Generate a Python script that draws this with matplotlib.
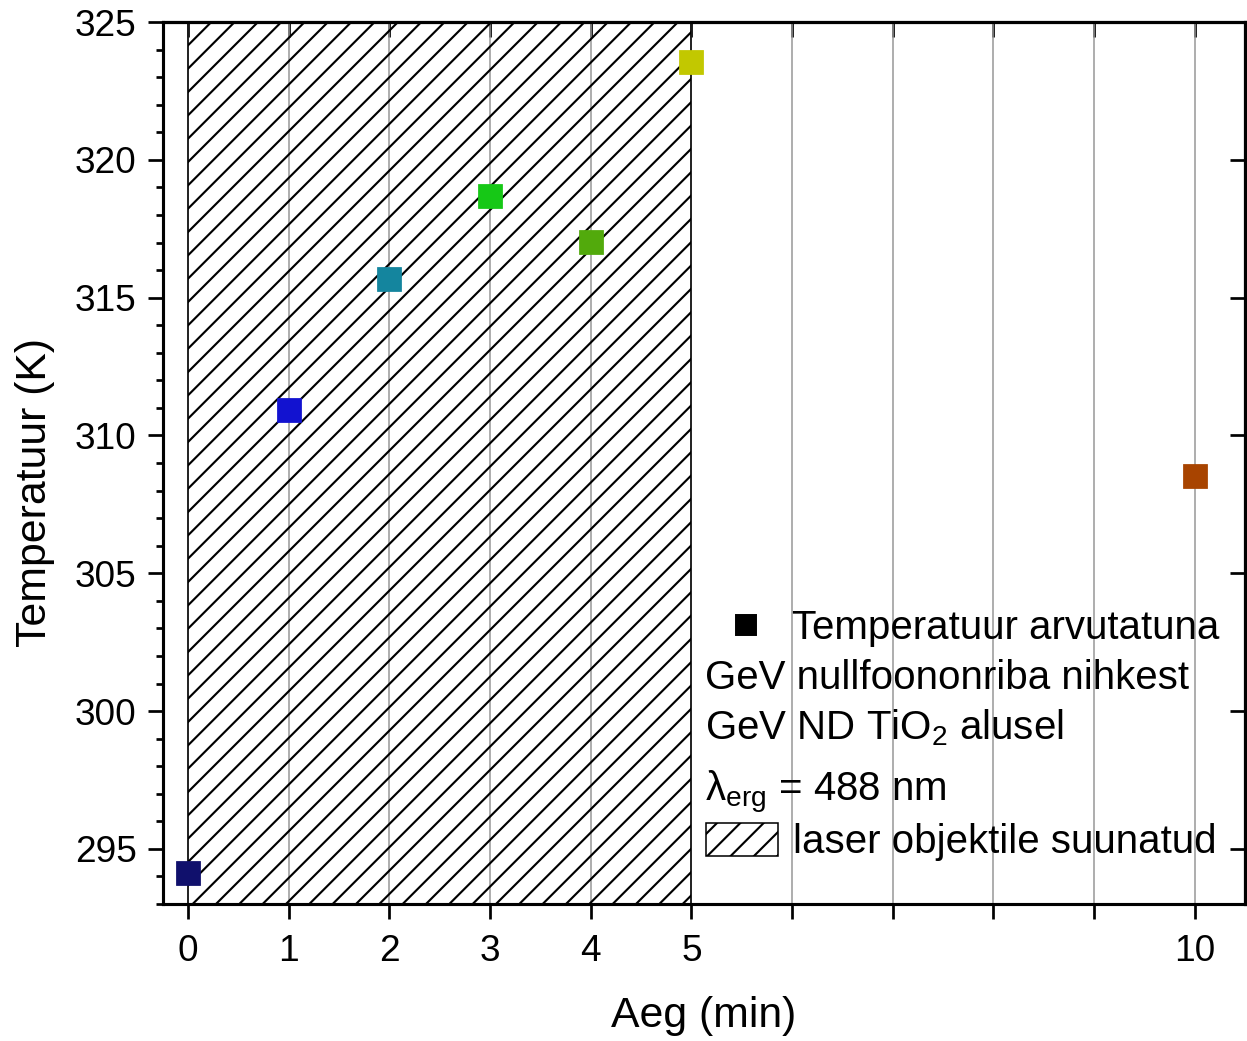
"""Temperature from GeV zero-phonon line shift vs time, laser-exposure window hatched."""

import matplotlib

matplotlib.use("Agg")
import matplotlib.pyplot as plt
from matplotlib.lines import Line2D
from matplotlib.patches import Patch
from matplotlib.ticker import MultipleLocator

# data
times = [0, 1, 2, 3, 4, 5, 10]
temps = [294.13, 310.93, 315.68, 318.69, 317.02, 323.55, 308.53]
point_colors = ["#10106c", "#1212d0", "#14859e", "#16c816", "#52aa0c", "#c2c800", "#a84400"]
laser_on = (0, 5)
xtick_pos = list(range(0, 11))
xtick_labels = ["0", "1", "2", "3", "4", "5", "", "", "", "", "10"]
ytick_pos = [295, 300, 305, 310, 315, 320, 325]

W, H, DPI = 1247, 1041, 140

plt.rcParams["font.family"] = ["Liberation Sans", "DejaVu Sans"]
plt.rcParams["mathtext.fontset"] = "custom"
plt.rcParams["mathtext.rm"] = "Liberation Sans"
plt.rcParams["mathtext.it"] = "Liberation Sans:italic"
plt.rcParams["hatch.linewidth"] = 1.1


def fx(px):
    return px / W


def fy(py):
    return 1 - py / H


fig = plt.figure(figsize=(W / DPI, H / DPI), dpi=DPI)
ax = fig.add_axes([fx(163), fy(904), fx(1245) - fx(163), fy(22) - fy(904)])

ax.set_xlim(-0.25, 10.5)
ax.set_ylim(293, 325)

for x in xtick_pos:
    ax.axvline(x, color="#999999", lw=0.8, zorder=1)

ax.axvspan(*laser_on, facecolor="none", edgecolor="black", hatch="//", lw=0.8, zorder=2)

for t, T, c in zip(times, temps, point_colors):
    ax.plot(t, T, marker="s", ms=12.5, color=c, mec=c, mew=0.4, ls="none", zorder=4, clip_on=False)

for s in ax.spines.values():
    s.set_linewidth(1.6)

ax.set_xticks(xtick_pos)
ax.set_xticklabels(xtick_labels)
ax.set_yticks(ytick_pos)
ax.yaxis.set_minor_locator(MultipleLocator(1))
ax.tick_params(axis="both", which="major", direction="out", length=7.5, width=1.4, labelsize=19)
ax.tick_params(axis="x", which="major", pad=8)
ax.tick_params(axis="y", which="major", pad=6)
ax.tick_params(axis="y", which="minor", direction="out", length=3.8, width=1.4)

top = ax.secondary_xaxis("top")
top.set_xticks(xtick_pos)
top.set_xticklabels([])
top.tick_params(direction="in", length=7.5, width=1.4)
top.spines["top"].set_linewidth(1.6)

right = ax.secondary_yaxis("right")
right.set_yticks(ytick_pos)
right.set_yticklabels([])
right.tick_params(direction="in", length=7.5, width=1.4)
right.spines["right"].set_linewidth(1.6)

ax.set_xlabel("Aeg (min)", fontsize=22, labelpad=14)
ax.set_ylabel("Temperatuur (K)", fontsize=22)
ax.yaxis.set_label_coords(-0.1, 0.467)

# legend block
leg_fs = 20.7
fig.legend(
    [Line2D([], [], marker="s", color="black", ls="none", ms=10.5)],
    ["Temperatuur arvutatuna"],
    loc="center left",
    bbox_to_anchor=(fx(714), fy(628)),
    frameon=False,
    fontsize=leg_fs,
    handlelength=1.6,
    handletextpad=0.35,
    borderaxespad=0,
    borderpad=0,
)
fig.text(fx(705), fy(678), "GeV nullfoononriba nihkest", fontsize=leg_fs, va="center", ha="left")
fig.text(fx(705), fy(728), "GeV ND TiO$\\mathregular{_2}$ alusel", fontsize=leg_fs, va="center", ha="left")
fig.text(fx(705), fy(792), "λ$\\mathregular{_{erg}}$ = 488 nm", fontsize=leg_fs, va="center", ha="left")
fig.legend(
    [Patch(facecolor="white", edgecolor="black", hatch="//", lw=0.8)],
    ["laser objektile suunatud"],
    loc="center left",
    bbox_to_anchor=(fx(706), fy(842)),
    frameon=False,
    fontsize=leg_fs,
    handlelength=1.8,
    handleheight=0.9,
    handletextpad=0.35,
    borderaxespad=0,
    borderpad=0,
)

fig.savefig("out.png", dpi=DPI)
